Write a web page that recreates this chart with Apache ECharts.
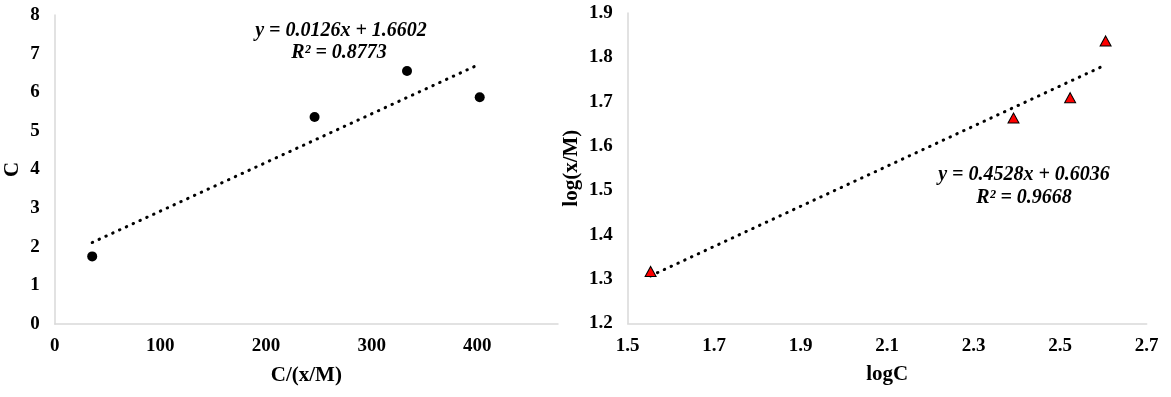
<!DOCTYPE html>
<html>
<head>
<meta charset="utf-8">
<script src="https://cdn.jsdelivr.net/npm/echarts@6/dist/echarts.min.js"></script>
<style>
html,body{margin:0;padding:0;background:#fff;}
#chart{width:1171px;height:397px;}
</style>
</head>
<body>
<div id="chart"></div>
<script>
// Left chart: C vs C/(x/M)
var leftX = [35.5, 246, 333.5, 402.3];
var leftY = [1.75, 5.36, 6.55, 5.87];
var leftTrend = [[35.5, 2.11], [402.3, 6.73]];
var leftEq = ['y = 0.0126x + 1.6602', 'R² = 0.8773'];

// Right chart: log(x/M) vs logC
var rightX = [1.553, 2.392, 2.523, 2.605];
var rightY = [1.317, 1.663, 1.709, 1.837];
var rightTrend = [[1.553, 1.307], [2.605, 1.783]];
var rightEq = ['y = 0.4528x + 0.6036', 'R² = 0.9668'];

var FONT = "'Liberation Serif','Times New Roman',serif";

function pairs(xs, ys){ return xs.map(function(x,i){ return [x, ys[i]]; }); }

var axisLineStyle = {lineStyle:{color:'#d9d9d9', width:1.5}};
var labelStyle = {color:'#000', fontFamily:FONT, fontWeight:'bold', fontSize:19};
var nameStyle = {color:'#000', fontFamily:FONT, fontWeight:'bold', fontSize:21};
var eqFont = 'italic bold 20px ' + FONT;

var chart = echarts.init(document.getElementById('chart'), null, {renderer:'canvas'});
chart.setOption({
  animation:false,
  grid:[
    {left:54.7, top:15, width:503.3, height:309},
    {left:627.7, top:13, width:519, height:310.3}
  ],
  xAxis:[
    {gridIndex:0, type:'value', min:0, max:476.4, interval:100,
     axisLine:axisLineStyle, axisTick:{show:false}, splitLine:{show:false},
     axisLabel:Object.assign({margin:13, showMaxLabel:false}, labelStyle),
     name:'C/(x/M)', nameLocation:'middle', nameGap:41, nameTextStyle:nameStyle},
    {gridIndex:1, type:'value', min:1.5, max:2.7, interval:0.2,
     axisLine:axisLineStyle, axisTick:{show:false}, splitLine:{show:false},
     axisLabel:Object.assign({margin:13, formatter:function(v){return v.toFixed(1);}}, labelStyle),
     name:'logC', nameLocation:'middle', nameGap:41, nameTextStyle:nameStyle}
  ],
  yAxis:[
    {gridIndex:0, type:'value', min:0, max:8, interval:1,
     axisLine:Object.assign({show:true}, axisLineStyle), axisTick:{show:false}, splitLine:{show:false},
     axisLabel:Object.assign({margin:15}, labelStyle),
     name:'C', nameLocation:'middle', nameGap:32, nameTextStyle:nameStyle},
    {gridIndex:1, type:'value', min:1.2, max:1.9, interval:0.1,
     axisLine:Object.assign({show:true}, axisLineStyle), axisTick:{show:false}, splitLine:{show:false},
     axisLabel:Object.assign({margin:15, formatter:function(v){return v.toFixed(1);}}, labelStyle),
     name:'log(x/M)', nameLocation:'middle', nameGap:46, nameTextStyle:nameStyle}
  ],
  series:[
    {type:'line', xAxisIndex:0, yAxisIndex:0, data:leftTrend, symbol:'none',
     lineStyle:{color:'#000', width:3, type:[0.5,7], cap:'round'}, silent:true, z:2},
    {type:'scatter', xAxisIndex:0, yAxisIndex:0, data:pairs(leftX,leftY), symbol:'circle', symbolSize:10,
     itemStyle:{color:'#000', opacity:1}, z:3},
    {type:'line', xAxisIndex:1, yAxisIndex:1, data:rightTrend, symbol:'none',
     lineStyle:{color:'#000', width:3, type:[0.5,7], cap:'round'}, silent:true, z:2},
    {type:'scatter', xAxisIndex:1, yAxisIndex:1, data:pairs(rightX,rightY), symbol:'triangle', symbolSize:[11,10],
     itemStyle:{color:'#ff0000', borderColor:'#000', borderWidth:1, opacity:1}, z:3}
  ],
  graphic:[
    {type:'text', x:341, y:31, style:{text:leftEq[0], fill:'#000', font:eqFont, align:'center', verticalAlign:'middle'}},
    {type:'text', x:339, y:53, style:{text:leftEq[1], fill:'#000', font:eqFont, align:'center', verticalAlign:'middle'}},
    {type:'text', x:1024, y:175, style:{text:rightEq[0], fill:'#000', font:eqFont, align:'center', verticalAlign:'middle'}},
    {type:'text', x:1024, y:198, style:{text:rightEq[1], fill:'#000', font:eqFont, align:'center', verticalAlign:'middle'}}
  ]
});
</script>
</body>
</html>
